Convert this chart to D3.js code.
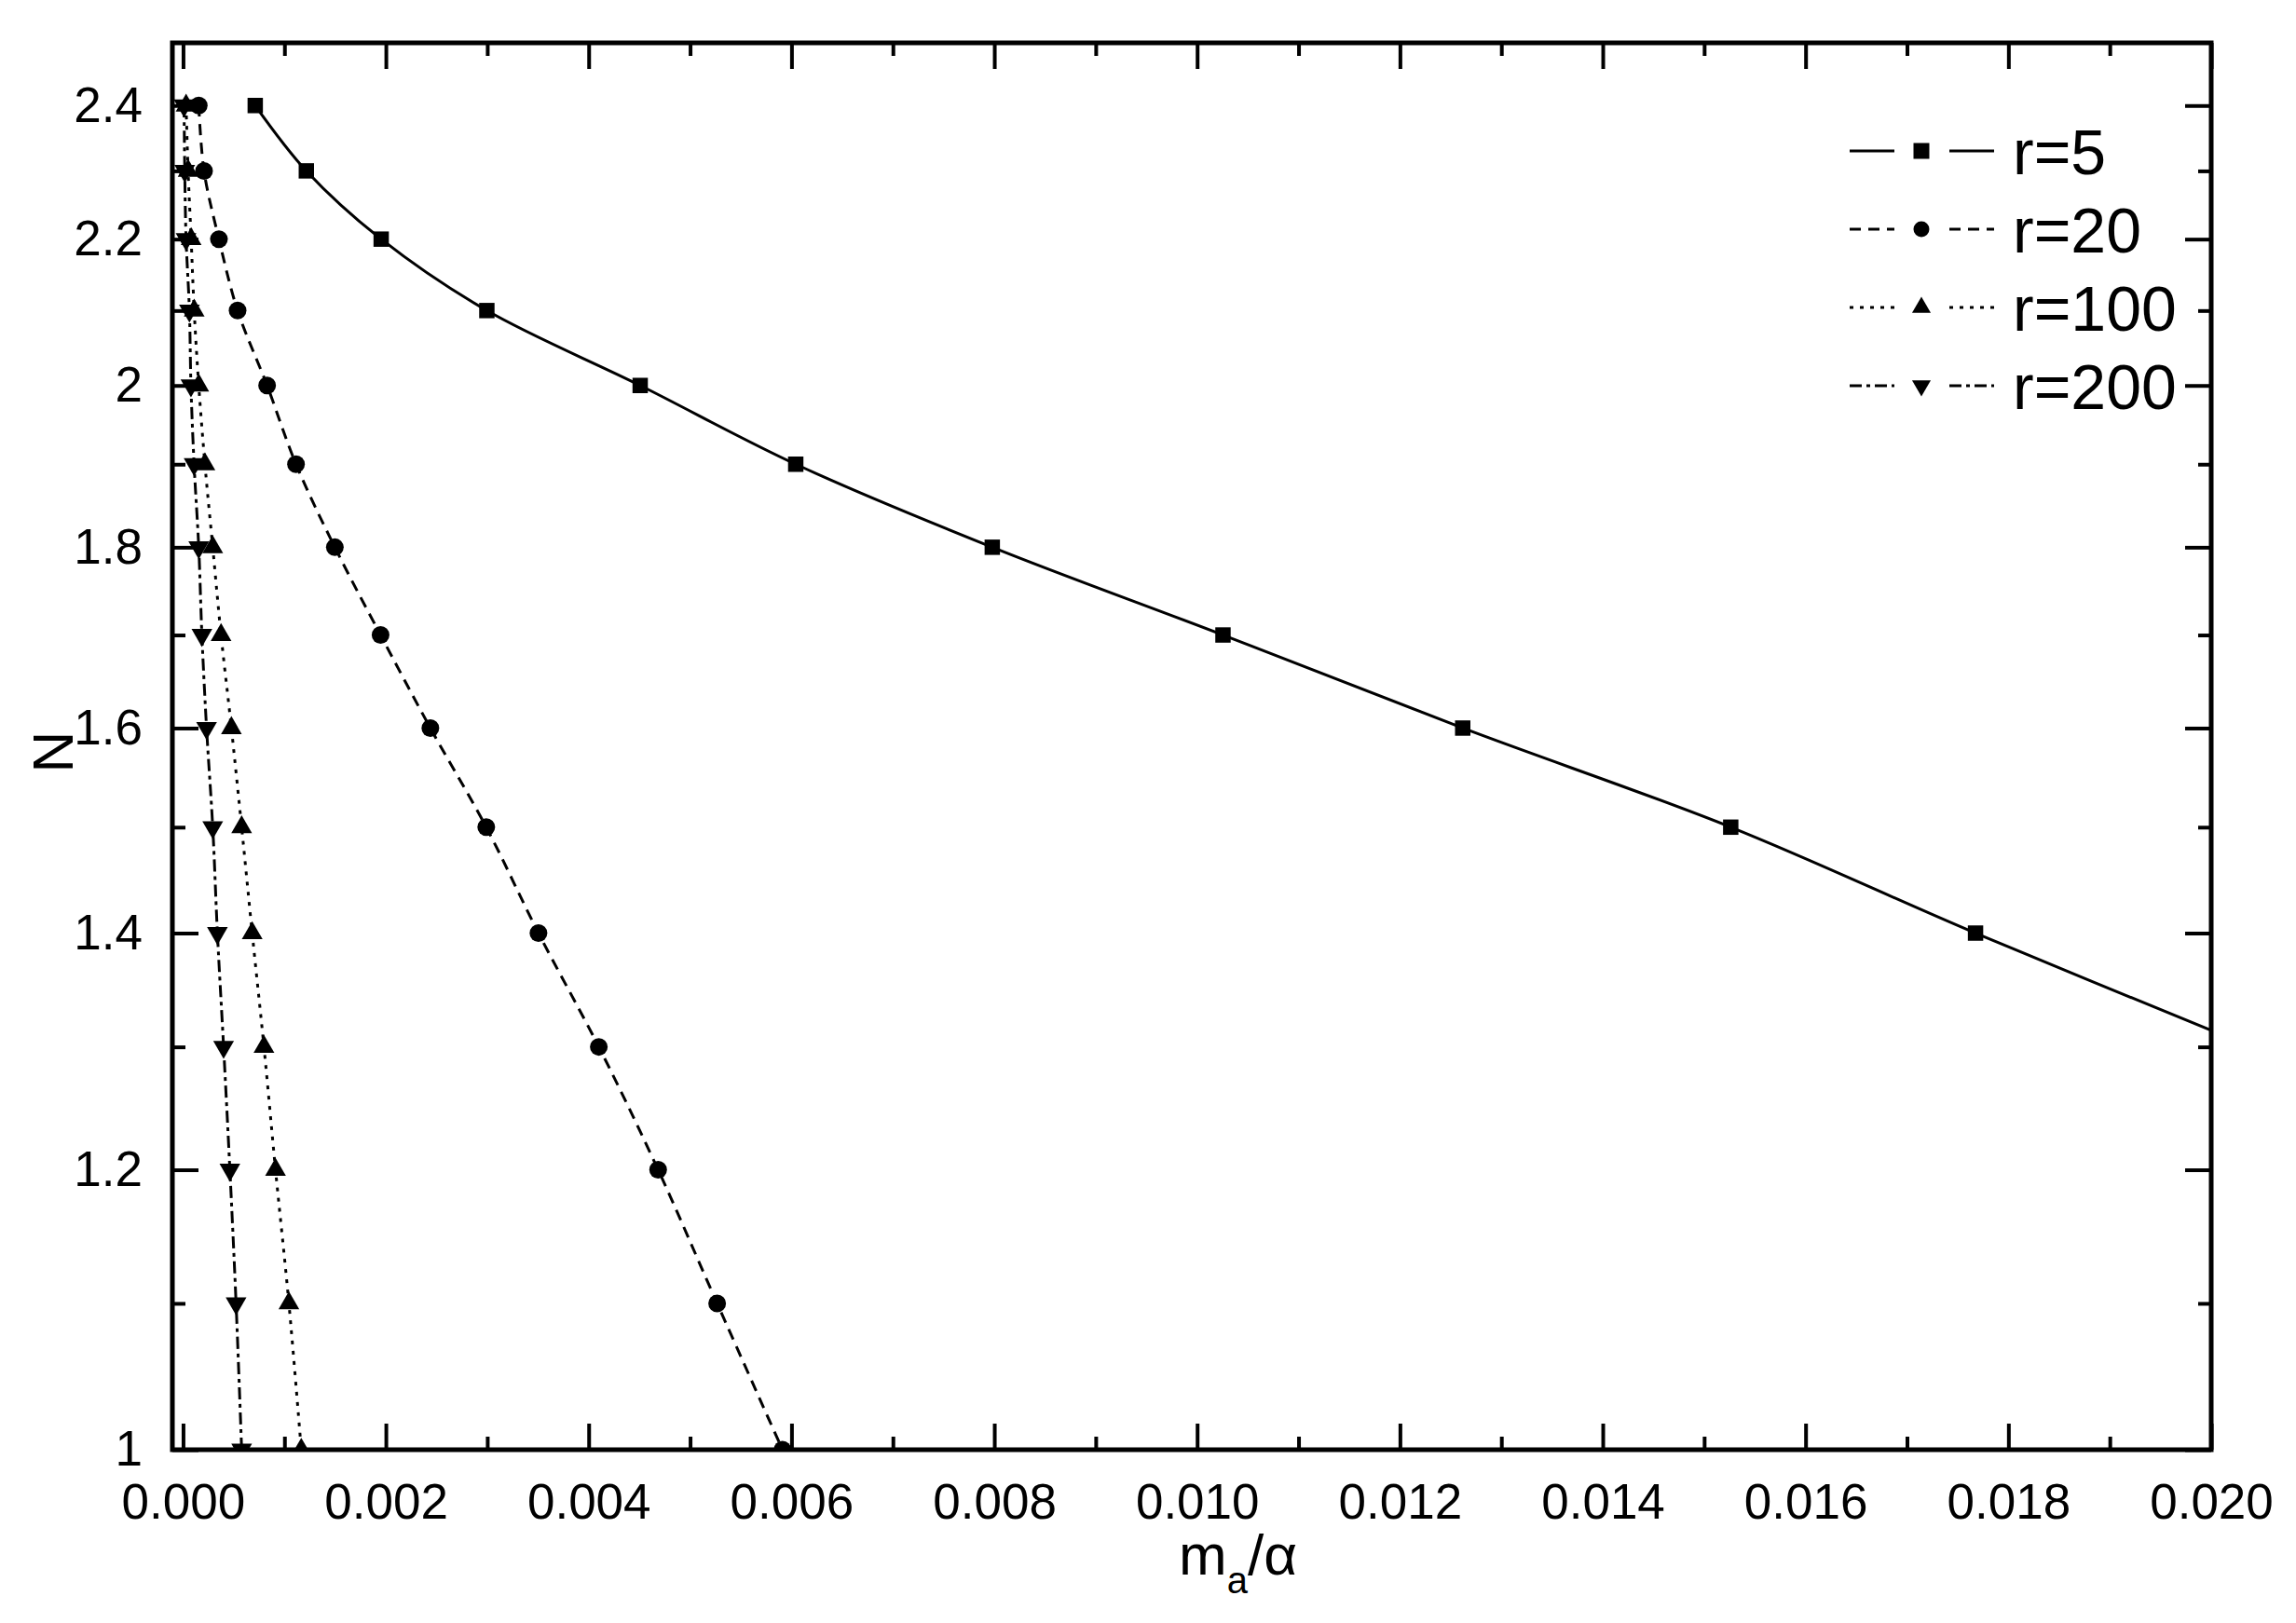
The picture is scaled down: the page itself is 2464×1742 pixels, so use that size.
<!DOCTYPE html>
<html><head><meta charset="utf-8">
<script src="https://cdn.jsdelivr.net/npm/d3@7"></script>
<style>
body{margin:0;background:#fff}
svg{display:block}
text{font-family:"Liberation Sans",Arial,Helvetica,sans-serif;fill:#000}
</style>
</head><body>
<script>
// ---------- data ----------
const nValues = [2.4, 2.3, 2.2, 2.1, 2.0, 1.9, 1.8, 1.7, 1.6, 1.5, 1.4, 1.3, 1.2, 1.1, 1.0];
const seriesNames = ["r=5", "r=20", "r=100", "r=200"];
const xR5   = [0.000712, 0.001216, 0.001954, 0.002996, 0.004508, 0.006042, 0.00798, 0.010255, 0.012619, 0.015262, 0.017676, 0.0204];
const xR20  = [0.000155, 0.000207, 0.000354, 0.000538, 0.000829, 0.001114, 0.001497, 0.001948, 0.002439, 0.00299, 0.003505, 0.0041, 0.004685, 0.005267, 0.005911];
const xR100 = [0.00003, 0.00005, 0.00008, 0.00011, 0.000155, 0.000216, 0.000293, 0.000375, 0.000477, 0.000578, 0.000682, 0.000798, 0.000912, 0.001044, 0.001166];
const xR200 = [0.00001, 0.000017, 0.00003, 0.000063, 0.000078, 0.000109, 0.000155, 0.000186, 0.000232, 0.000293, 0.000339, 0.0004, 0.000462, 0.000523, 0.000578];
const xMajorTicks = [0, 0.002, 0.004, 0.006, 0.008, 0.010, 0.012, 0.014, 0.016, 0.018, 0.020];
const xMinorTicks = [0.001, 0.003, 0.005, 0.007, 0.009, 0.011, 0.013, 0.015, 0.017, 0.019];
const yMajorTicks = [1.0, 1.2, 1.4, 1.6, 1.8, 2.0, 2.2, 2.4];
const yTickLabels = ["1", "1.2", "1.4", "1.6", "1.8", "2", "2.2", "2.4"];
const yMinorTicks = [1.1, 1.3, 1.5, 1.7, 1.9, 2.1, 2.3];

// ---------- layout ----------
const W = 2464, H = 1742;
const L = 185, R = 2373, T = 46, B = 1556;

const svg = d3.select("body").append("svg").attr("width", W).attr("height", H);

const x = d3.scaleLinear().domain([-0.000105, 0.020]).range([L, R]);
const y = d3.scaleLog().domain([1, 2.5]).range([B, T]);

svg.append("defs").append("clipPath").attr("id", "plotclip")
  .append("rect").attr("x", L).attr("y", T).attr("width", R - L).attr("height", B - T);

const series = [
  {name: seriesNames[0], xs: xR5,   dash: null,          sym: d3.symbolSquare,   size: 272, lsize: 289, rot: 0},
  {name: seriesNames[1], xs: xR20,  dash: "12,8",        sym: d3.symbolCircle,   size: 284, lsize: 227, rot: 0},
  {name: seriesNames[2], xs: xR100, dash: "4,7",         sym: d3.symbolTriangle, size: 215, lsize: 175, rot: 0},
  {name: seriesNames[3], xs: xR200, dash: "13,5,4,5",    sym: d3.symbolTriangle, size: 215, lsize: 175, rot: 180}
];

const plot = svg.append("g").attr("clip-path", "url(#plotclip)");
const line = d3.line().x(d => x(d[0])).y(d => y(d[1])).curve(d3.curveCatmullRom.alpha(0.5));

series.forEach(s => {
  const pts = s.xs.map((v, i) => [v, nValues[i]]);
  plot.append("path").datum(pts)
    .attr("d", line).attr("fill", "none").attr("stroke", "#000")
    .attr("stroke-width", 3).attr("stroke-dasharray", s.dash);
  const sym = d3.symbol().type(s.sym).size(s.size);
  plot.selectAll(null).data(pts).enter().append("path")
    .attr("d", sym)
    .attr("transform", d => `translate(${x(d[0])},${y(d[1])}) rotate(${s.rot})`)
    .attr("fill", "#000");
});

// ---------- axes ----------
const tickStyle = g => {
  g.select(".domain").remove();
  g.selectAll(".tick line").attr("stroke", "#000").attr("stroke-width", 4);
  g.selectAll(".tick text").attr("font-size", 53).attr("font-family", '"Liberation Sans",Arial,sans-serif').attr("fill", "#000");
};
const fmtX = d3.format(".3f");

svg.append("g").attr("transform", `translate(0,${B})`)
  .call(d3.axisBottom(x).tickValues(xMajorTicks).tickSize(-28).tickPadding(36).tickFormat(fmtX))
  .call(tickStyle);
svg.append("g").attr("transform", `translate(0,${B})`)
  .call(d3.axisBottom(x).tickValues(xMinorTicks).tickSize(-14).tickFormat(""))
  .call(tickStyle);
svg.append("g").attr("transform", `translate(0,${T})`)
  .call(d3.axisTop(x).tickValues(xMajorTicks).tickSize(-28).tickFormat(""))
  .call(tickStyle);
svg.append("g").attr("transform", `translate(0,${T})`)
  .call(d3.axisTop(x).tickValues(xMinorTicks).tickSize(-14).tickFormat(""))
  .call(tickStyle);

svg.append("g").attr("transform", `translate(${L},0)`)
  .call(d3.axisLeft(y).tickValues(yMajorTicks).tickSize(-28).tickPadding(32).tickFormat((d, i) => yTickLabels[i]))
  .call(tickStyle);
svg.append("g").attr("transform", `translate(${L},0)`)
  .call(d3.axisLeft(y).tickValues(yMinorTicks).tickSize(-14).tickFormat(""))
  .call(tickStyle);
svg.append("g").attr("transform", `translate(${R},0)`)
  .call(d3.axisRight(y).tickValues(yMajorTicks).tickSize(-28).tickFormat(""))
  .call(tickStyle);
svg.append("g").attr("transform", `translate(${R},0)`)
  .call(d3.axisRight(y).tickValues(yMinorTicks).tickSize(-14).tickFormat(""))
  .call(tickStyle);

// frame
svg.append("rect").attr("x", L).attr("y", T).attr("width", R - L).attr("height", B - T)
  .attr("fill", "none").attr("stroke", "#000").attr("stroke-width", 5);

// ---------- axis titles ----------
svg.append("text").attr("transform", "translate(78,807) rotate(-90)")
  .attr("text-anchor", "middle").attr("font-size", 62).text("N");

const xt = svg.append("text").attr("x", 1265).attr("y", 1690).attr("font-size", 62);
xt.append("tspan").text("m");
xt.append("tspan").attr("font-size", 40).attr("dy", 20).text("a");
xt.append("tspan").attr("dy", -20).text("/α");

// ---------- legend ----------
const legY = [162, 246, 330, 414];
const leg = svg.append("g");
series.forEach((s, i) => {
  const gy = legY[i];
  [[1985, 2033], [2092, 2140]].forEach(seg => {
    leg.append("line").attr("x1", seg[0]).attr("x2", seg[1]).attr("y1", gy).attr("y2", gy)
      .attr("stroke", "#000").attr("stroke-width", 3).attr("stroke-dasharray", s.dash);
  });
  leg.append("path").attr("d", d3.symbol().type(s.sym).size(s.lsize))
    .attr("transform", `translate(2062,${gy}) rotate(${s.rot})`).attr("fill", "#000");
  leg.append("text").attr("x", 2160).attr("y", gy + 25).attr("font-size", 68).text(s.name);
});
</script>
</body></html>
